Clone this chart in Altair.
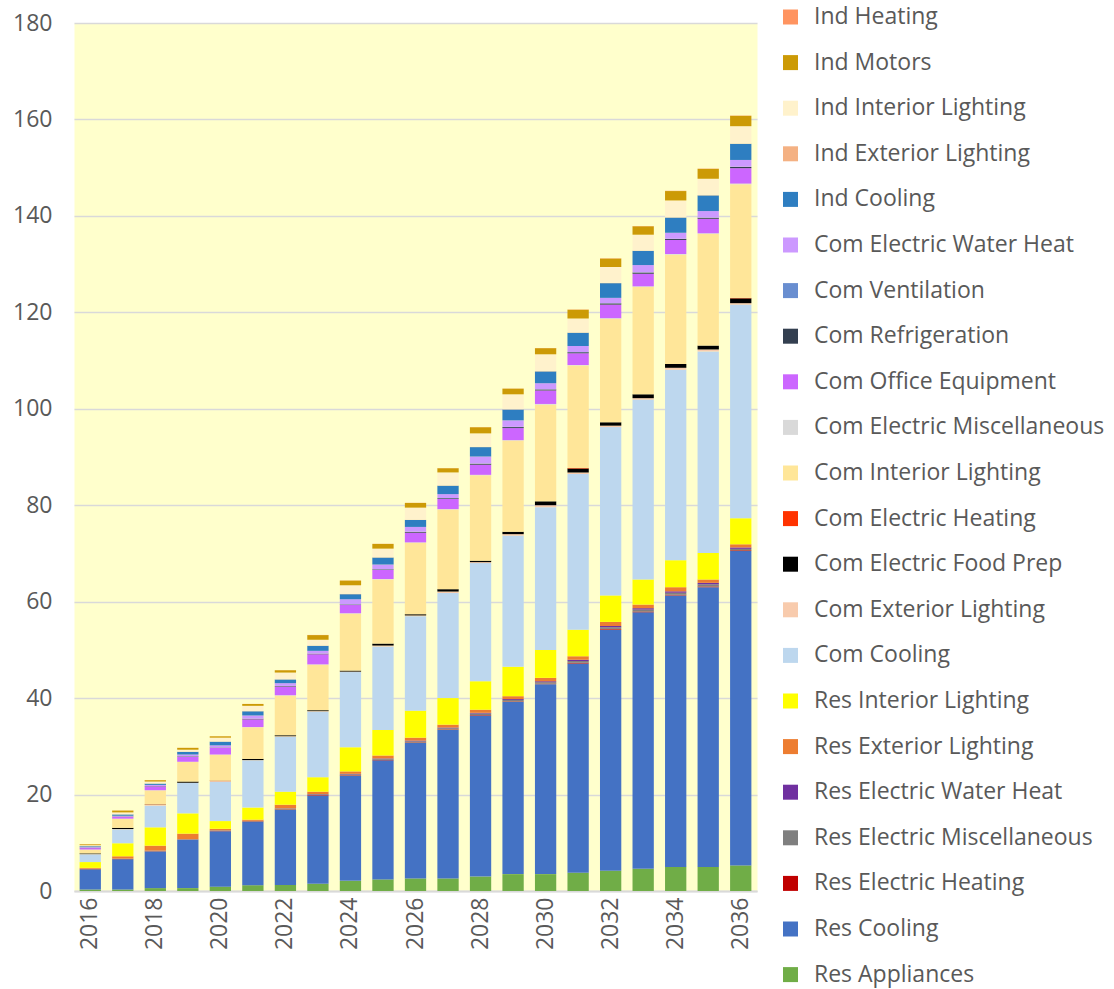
import altair as alt
import pandas as pd

# Electricity demand by end use, 2016-2036 (stacked, bottom to top)
years = list(range(2016, 2037))

series = [
    "Res Appliances", "Res Cooling", "Res Electric Heating", "Res Electric Miscellaneous",
    "Res Electric Water Heat", "Res Exterior Lighting", "Res Interior Lighting",
    "Com Cooling", "Com Exterior Lighting", "Com Electric Food Prep", "Com Electric Heating",
    "Com Interior Lighting", "Com Electric Miscellaneous", "Com Office Equipment",
    "Com Refrigeration", "Com Ventilation", "Com Electric Water Heat",
    "Ind Cooling", "Ind Exterior Lighting", "Ind Interior Lighting", "Ind Motors", "Ind Heating",
]

colors = [
    "#70AD47", "#4472C4", "#C00000", "#7F7F7F",
    "#7030A0", "#ED7D31", "#FFFF00",
    "#BDD7EE", "#F8CBAD", "#000000", "#FF3300",
    "#FFE699", "#D9D9D9", "#CC66FF",
    "#333F50", "#698ED0", "#CC99FF",
    "#2E7EC1", "#F4B183", "#FFF2CC", "#CC9A06", "#FF9460",
]

res_appliances = [0.3, 0.3, 0.6, 0.6, 0.9, 1.2, 1.25, 1.5, 2.1, 2.4, 2.6, 2.6, 3.0, 3.5, 3.5, 3.8, 4.2, 4.6, 5.0, 5.0, 5.3]
res_cooling = [4.2, 6.3, 7.6, 10.0, 11.5, 13.1, 15.55, 18.3, 21.8, 24.7, 28.1, 30.8, 33.4, 35.7, 39.4, 43.4, 50.0, 53.2, 56.3, 58.0, 65.2]
res_heating = [0.05, 0.05, 0.05, 0.05, 0.05, 0.1, 0.1, 0.1, 0.1, 0.1, 0.1, 0.1, 0.1, 0.1, 0.1, 0.15, 0.15, 0.15, 0.15, 0.15, 0.15]
res_misc = [0.05, 0.05, 0.1, 0.1, 0.1, 0.1, 0.2, 0.15, 0.2, 0.2, 0.25, 0.25, 0.3, 0.3, 0.3, 0.35, 0.35, 0.4, 0.4, 0.45, 0.3]
res_water_heat = [0.02, 0.02, 0.03, 0.03, 0.03, 0.05, 0.05, 0.05, 0.1, 0.1, 0.15, 0.15, 0.15, 0.2, 0.2, 0.25, 0.25, 0.3, 0.3, 0.3, 0.3]
res_ext_lighting = [0.18, 0.48, 1.02, 1.12, 0.32, 0.25, 0.75, 0.5, 0.5, 0.6, 0.6, 0.6, 0.65, 0.6, 0.7, 0.75, 0.85, 0.75, 0.85, 0.7, 0.65]
res_int_lighting = [1.2, 2.7, 3.8, 4.2, 1.6, 2.5, 2.7, 3.0, 5.0, 5.3, 5.6, 5.5, 5.9, 6.1, 5.8, 5.5, 5.5, 5.2, 5.6, 5.5, 5.4]
com_cooling = [1.6, 2.9, 4.5, 6.3, 8.1, 9.8, 11.4, 13.6, 15.6, 17.3, 19.6, 21.8, 24.5, 27.2, 29.6, 32.3, 34.9, 37.3, 39.5, 41.8, 44.3]
com_ext_lighting = [0.05, 0.05, 0.2, 0.05, 0.2, 0.05, 0.1, 0.1, 0.1, 0.2, 0.15, 0.3, 0.2, 0.3, 0.4, 0.3, 0.3, 0.3, 0.4, 0.4, 0.3]
com_food_prep = [0.15, 0.25, 0.05, 0.25, 0.05, 0.25, 0.2, 0.2, 0.2, 0.4, 0.25, 0.5, 0.3, 0.5, 0.8, 0.8, 0.7, 0.8, 0.8, 0.8, 1.0]
com_heating = [0.0, 0.0, 0.05, 0.0, 0.05, 0.0, 0.0, 0.0, 0.0, 0.0, 0.0, 0.0, 0.0, 0.0, 0.0, 0.1, 0.0, 0.0, 0.0, 0.0, 0.1]
com_int_lighting = [0.75, 1.85, 2.85, 4.05, 5.35, 6.55, 8.2, 9.4, 11.8, 13.3, 14.8, 16.5, 17.7, 18.9, 20.05, 21.25, 21.45, 22.25, 22.65, 23.15, 23.55]
com_misc = [0.05, 0.05, 0.05, 0.05, 0.05, 0.05, 0.1, 0.1, 0.1, 0.1, 0.1, 0.1, 0.1, 0.1, 0.15, 0.15, 0.15, 0.15, 0.15, 0.15, 0.15]
com_office = [0.3, 0.4, 0.8, 1.0, 1.4, 1.6, 1.8, 2.1, 1.7, 1.9, 2.0, 2.1, 2.1, 2.5, 2.8, 2.4, 2.8, 2.6, 2.9, 3.0, 3.2]
com_refrigeration = [0.05, 0.05, 0.05, 0.1, 0.05, 0.1, 0.1, 0.1, 0.1, 0.1, 0.15, 0.15, 0.2, 0.2, 0.2, 0.2, 0.25, 0.25, 0.2, 0.2, 0.25]
com_ventilation = [0.02, 0.02, 0.02, 0.03, 0.03, 0.03, 0.03, 0.03, 0.05, 0.05, 0.05, 0.05, 0.05, 0.05, 0.05, 0.05, 0.05, 0.05, 0.05, 0.05, 0.05]
com_water_heat = [0.13, 0.13, 0.23, 0.37, 0.42, 0.67, 0.57, 0.57, 1.05, 0.95, 1.0, 0.8, 1.45, 1.35, 1.25, 1.25, 1.1, 1.5, 1.25, 1.35, 1.4]
ind_cooling = [0.18, 0.28, 0.28, 0.57, 0.77, 0.87, 0.77, 1.05, 1.05, 1.45, 1.45, 1.75, 1.95, 2.25, 2.45, 2.75, 3.05, 2.95, 3.15, 3.25, 3.35]
ind_ext_lighting = [0.02, 0.02, 0.02, 0.03, 0.03, 0.03, 0.03, 0.05, 0.05, 0.05, 0.05, 0.05, 0.05, 0.05, 0.05, 0.05, 0.05, 0.05, 0.05, 0.05, 0.05]
ind_int_lighting = [0.2, 0.4, 0.4, 0.4, 0.8, 1.1, 1.4, 1.2, 1.8, 1.8, 2.5, 2.7, 2.8, 3.1, 3.5, 2.9, 3.3, 3.3, 3.5, 3.4, 3.6]
ind_motors = [0.18, 0.38, 0.28, 0.38, 0.28, 0.38, 0.48, 0.97, 0.97, 0.97, 0.97, 0.87, 1.27, 1.17, 1.27, 1.85, 1.75, 1.75, 1.95, 2.05, 2.15]
ind_heating = [0.02, 0.02, 0.02, 0.02, 0.02, 0.02, 0.02, 0.03, 0.03, 0.03, 0.03, 0.03, 0.03, 0.03, 0.03, 0.05, 0.05, 0.05, 0.05, 0.05, 0.05]

values = [
    res_appliances, res_cooling, res_heating, res_misc, res_water_heat, res_ext_lighting,
    res_int_lighting, com_cooling, com_ext_lighting, com_food_prep, com_heating,
    com_int_lighting, com_misc, com_office, com_refrigeration, com_ventilation,
    com_water_heat, ind_cooling, ind_ext_lighting, ind_int_lighting, ind_motors, ind_heating,
]

rows = []
for k, (name, vals) in enumerate(zip(series, values)):
    for yr, v in zip(years, vals):
        rows.append({"year": yr, "series": name, "value": v, "stack": k})
df = pd.DataFrame(rows)

font = "Open Sans"
grey_text = "#595959"
text_size = 23

chart = (
    alt.Chart(df)
    .mark_bar()
    .encode(
        x=alt.X(
            "year:O",
            title=None,
            scale=alt.Scale(paddingInner=0.345, paddingOuter=0.1725),
            axis=alt.Axis(
                values=years[::2],
                labelAngle=270,
                labelFontSize=text_size,
                labelFont=font,
                labelColor=grey_text,
                labelPadding=6,
                ticks=False,
                domainColor="#D9D9D9",
                domainWidth=2,
                grid=False,
            ),
        ),
        y=alt.Y(
            "value:Q",
            stack="zero",
            title=None,
            scale=alt.Scale(domain=[0, 180], nice=False),
            axis=alt.Axis(
                values=list(range(0, 181, 20)),
                labelFontSize=text_size,
                labelFont=font,
                labelColor=grey_text,
                labelPadding=22,
                ticks=False,
                domain=False,
                grid=True,
                gridColor="#D9D9D9",
                gridWidth=1.3,
            ),
        ),
        color=alt.Color(
            "series:N",
            scale=alt.Scale(domain=series[::-1], range=colors[::-1]),
            legend=alt.Legend(
                orient="none",
                legendX=705,
                legendY=-17.5,
                title=None,
                symbolType="square",
                symbolSize=225,
                symbolStrokeWidth=0,
                labelFontSize=text_size,
                labelFont=font,
                labelColor=grey_text,
                labelOffset=12,
                labelLimit=400,
                rowPadding=21.6,
                padding=0,
            ),
        ),
        order=alt.Order("stack:Q", sort="ascending"),
    )
    .properties(
        width=683,
        height=868,
        autosize=alt.AutoSizeParams(type="none"),
        padding={"left": 74, "top": 23, "right": 357, "bottom": 98},
    )
    .configure_view(fill="#FFFFCC", stroke="transparent")
)

chart.save("out.html", embed_options={"renderer": "svg", "actions": False})
